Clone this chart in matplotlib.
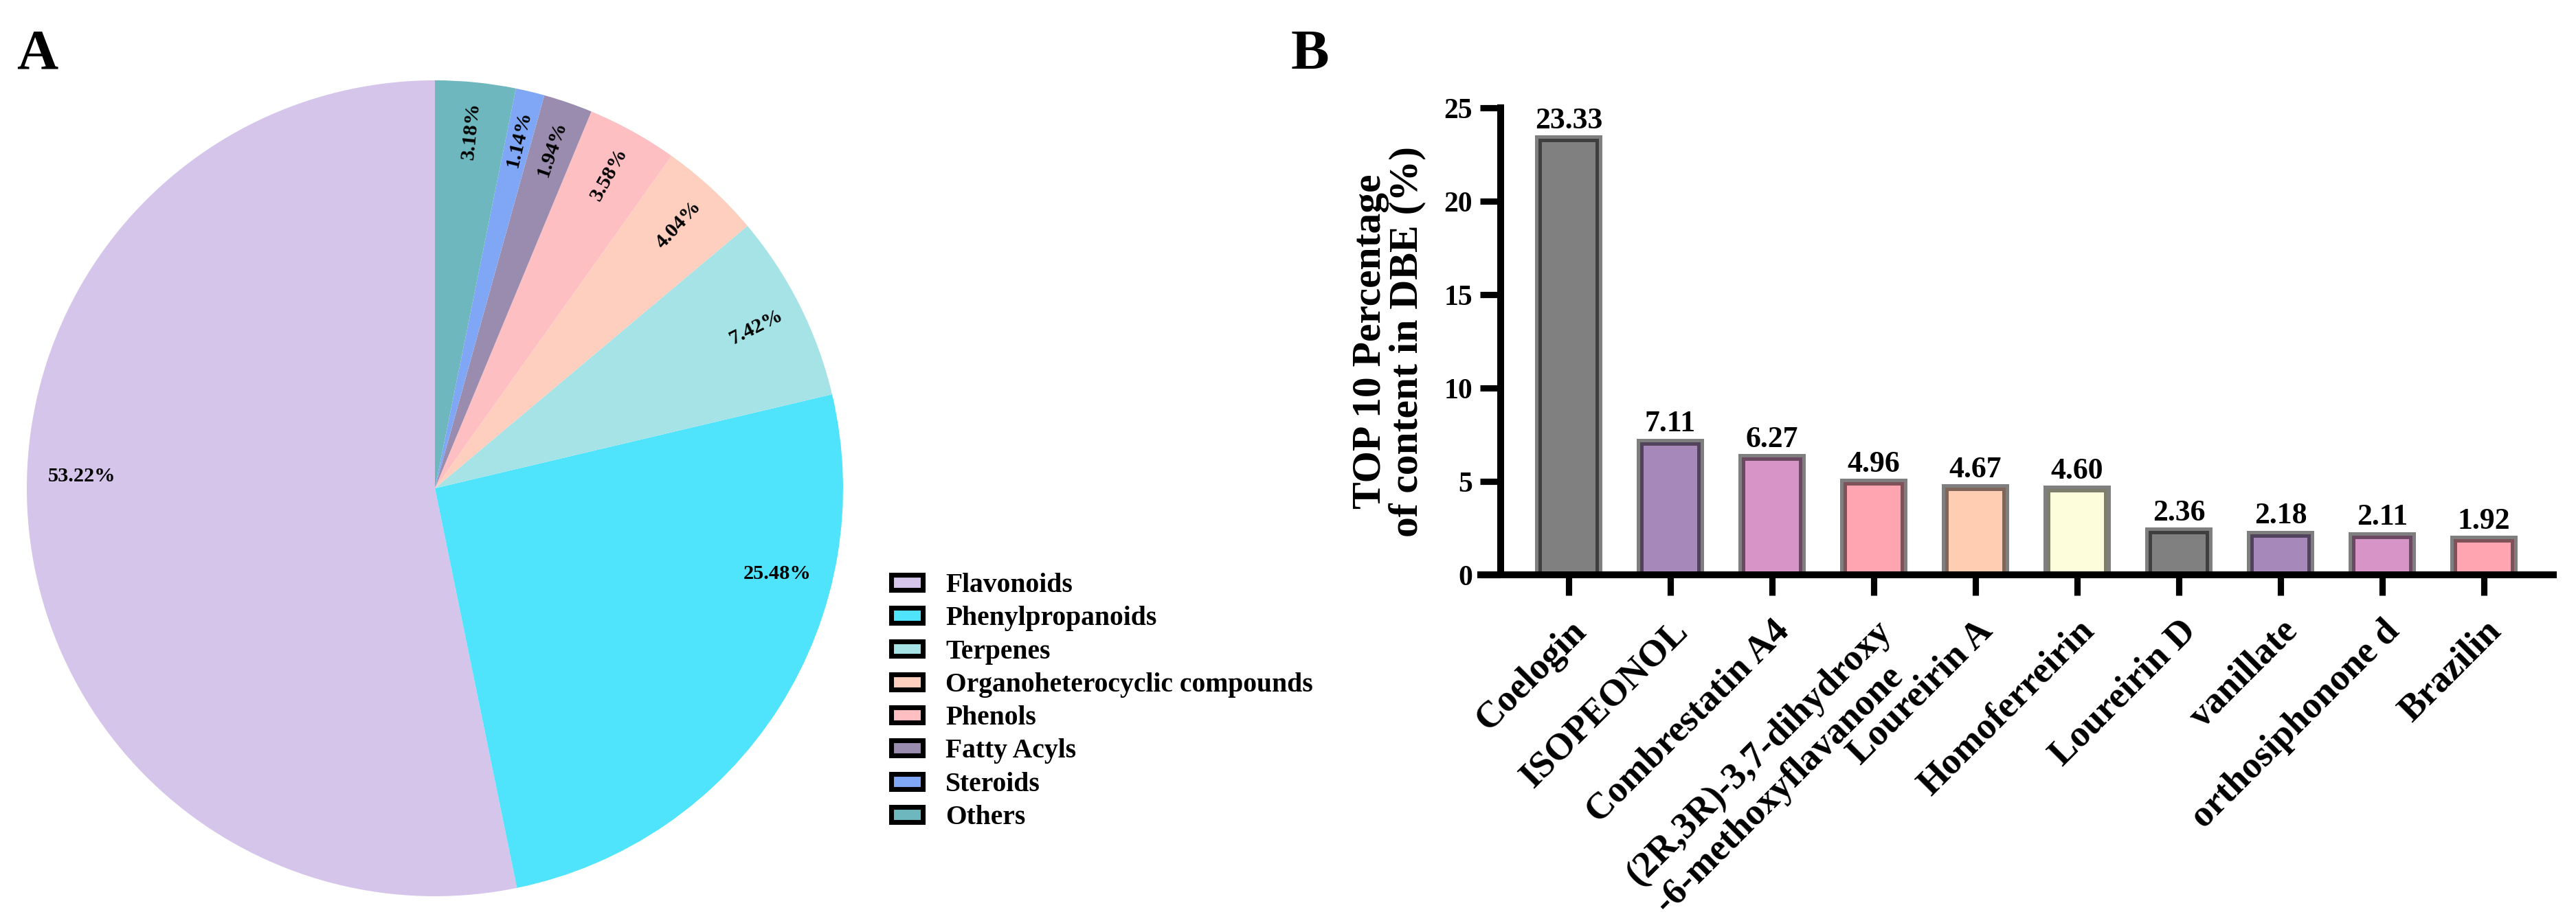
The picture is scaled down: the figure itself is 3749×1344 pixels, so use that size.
import matplotlib
matplotlib.use("Agg")
import matplotlib.pyplot as plt
from matplotlib.patches import Patch
import numpy as np

plt.rcParams['font.family'] = ['Liberation Serif', 'DejaVu Serif']
plt.rcParams['font.weight'] = 'bold'

# panel A: compound classes
classes = ['Flavonoids', 'Phenylpropanoids', 'Terpenes', 'Organoheterocyclic compounds',
           'Phenols', 'Fatty Acyls', 'Steroids', 'Others']
class_pct = [53.22, 25.48, 7.42, 4.04, 3.58, 1.94, 1.14, 3.18]
class_colors = ['#D5C5EA', '#50E3FC', '#A6E3E6', '#FECFBE',
                '#FEBFC3', '#9A8CAE', '#7FA7F6', '#6EB7BE']

# panel B: top 10 compounds
compounds = ['Coelogin', 'ISOPEONOL', 'Combrestatin A4',
             '(2R,3R)-3,7-dihydroxy\n-6-methoxyflavanone', 'Loureirin A',
             'Homoferreirin', 'Loureirin D', 'vanillate', 'orthosiphonone d', 'Brazilin']
content = [23.33, 7.11, 6.27, 4.96, 4.67, 4.60, 2.36, 2.18, 2.11, 1.92]
bar_colors = ['#808080', '#A688BA', '#D794C6', '#FFA4B1', '#FFCDB2',
              '#FDFDDC', '#808080', '#A688BA', '#D794C6', '#FFA4B1']

W, H, DPI = 3749, 1344, 300
fig = plt.figure(figsize=(W / DPI, H / DPI), dpi=DPI)

# ---- pie ----
ax1 = fig.add_axes([39 / W, 1 - 1305 / H, 1188 / W, 1188 / H])
wedges, _, autotexts = ax1.pie(class_pct, colors=class_colors, startangle=90,
                               counterclock=True, autopct='%.2f%%', pctdistance=0.88,
                               textprops={'fontsize': 7.3, 'fontweight': 'bold'})
# the two big labels sit horizontally, not at the wedge middle (as in the original)
big_label_angle = {'Flavonoids': 178, 'Phenylpropanoids': -14}
for w, t, p, name in zip(wedges, autotexts, class_pct, classes):
    if name in big_label_angle:
        a = np.deg2rad(big_label_angle[name])
        t.set_position((0.865 * np.cos(a), 0.865 * np.sin(a)))
    else:
        mid = (w.theta1 + w.theta2) / 2
        t.set_rotation(mid)
        t.set_rotation_mode('anchor')
    t.set_ha('center')
    t.set_va('center')
ax1.set_xlim(-1, 1)
ax1.set_ylim(-1, 1)
ax1.set_aspect('equal')
ax1.axis('off')

handles = [Patch(facecolor=c, edgecolor='black', linewidth=1.7) for c in class_colors]
fig.legend(handles, classes, loc='upper left', bbox_to_anchor=(1297 / W, 1 - 834 / H),
           frameon=False, fontsize=9.5, handlelength=1.15, handleheight=0.47,
           handletextpad=0.85, labelspacing=0.285, borderpad=0, borderaxespad=0)

fig.text(54 / W, 1 - 80 / H, 'A', fontsize=20, fontweight='bold', ha='center', va='center')
fig.text(1906 / W, 1 - 80 / H, 'B', fontsize=20, fontweight='bold', ha='center', va='center')

# ---- bars ----
ax2 = fig.add_axes([2155 / W, 1 - 837 / H, 1561 / W, 680 / H])
x = np.arange(len(compounds))
bars = ax2.bar(x, content, width=0.6, color=bar_colors,
               edgecolor=(0, 0, 0, 0.5), linewidth=2.4, zorder=1)
ax2.bar_label(bars, labels=['%.2f' % v for v in content], padding=1.5,
              fontsize=10.5, fontweight='bold')
ax2.set_xlim(-0.865, 9.682)
ax2.set_ylim(0, 25)
ax2.set_yticks([0, 5, 10, 15, 20, 25])
ax2.set_xticks(x)
ax2.set_xticklabels(compounds, rotation=45, ha='right', va='top',
                    rotation_mode='anchor', fontsize=13, fontweight='bold',
                    multialignment='left')
for lab in ax2.get_yticklabels():
    lab.set_fontsize(12)
    lab.set_fontweight('bold')
ax2.spines['top'].set_visible(False)
ax2.spines['right'].set_visible(False)
ax2.spines['left'].set_position(('axes', 29 / 1561))
for s in ('left', 'bottom'):
    ax2.spines[s].set_linewidth(2.4)
    ax2.spines[s].set_capstyle('projecting')
ax2.tick_params(axis='both', length=7.2, width=2.2, direction='out')
ax2.tick_params(axis='y', pad=2.6)
ax2.tick_params(axis='x', pad=6.5)
ax2.set_ylabel('TOP 10 Percentage\nof content in DBE (%)', fontsize=14.3,
               fontweight='bold', linespacing=1.0, labelpad=6)

fig.savefig('out.png', dpi=DPI)
